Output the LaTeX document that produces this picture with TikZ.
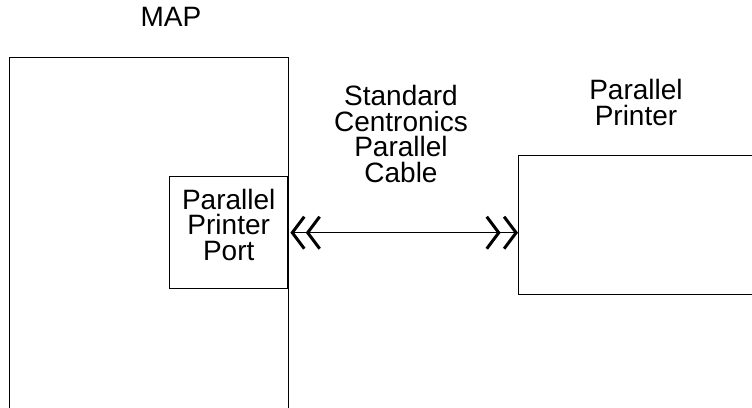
\documentclass[tikz,border=0pt]{standalone}
\usepackage{fontspec}
\setmainfont{Liberation Sans}
\usetikzlibrary{arrows.meta}
\begin{document}
\begin{tikzpicture}[x=1pt,y=-1pt,
  box/.style={draw,line width=1.4pt,rectangle,inner sep=0pt,anchor=north west},
  lbl/.style={align=center,inner sep=0pt,anchor=base,font=\fontsize{28}{25.5}\selectfont},
  chev/.style={{Straight Barb[length=12pt,width=32pt,line width=3pt,sep=2pt]Straight Barb[length=12pt,width=32pt,line width=3pt]}-{Straight Barb[length=12pt,width=32pt,line width=3pt,sep=2pt]Straight Barb[length=12pt,width=32pt,line width=3pt]}}]
\clip (0,0) rectangle (752,407);
\node[box,minimum width=279pt,minimum height=380pt] (map) at (9,57) {};
\node[box,minimum width=118pt,minimum height=112pt] (port) at (169,176) {};
\node[box,minimum width=260pt,minimum height=139pt] (printer) at (518,155) {};
\node[lbl] (maplbl) at (171,26) {MAP};
\node[lbl] (porttxt) at (port.center |- 0,260) {Parallel\\Printer\\Port};
\node[lbl] (cable) at (401,182) {Standard\\Centronics\\Parallel\\Cable};
\node[lbl] (prnlbl) at (636,125) {Parallel\\Printer};
\draw[chev,line width=1.4pt] (port.east) -- (port.east -| printer.west);
\end{tikzpicture}
\end{document}
